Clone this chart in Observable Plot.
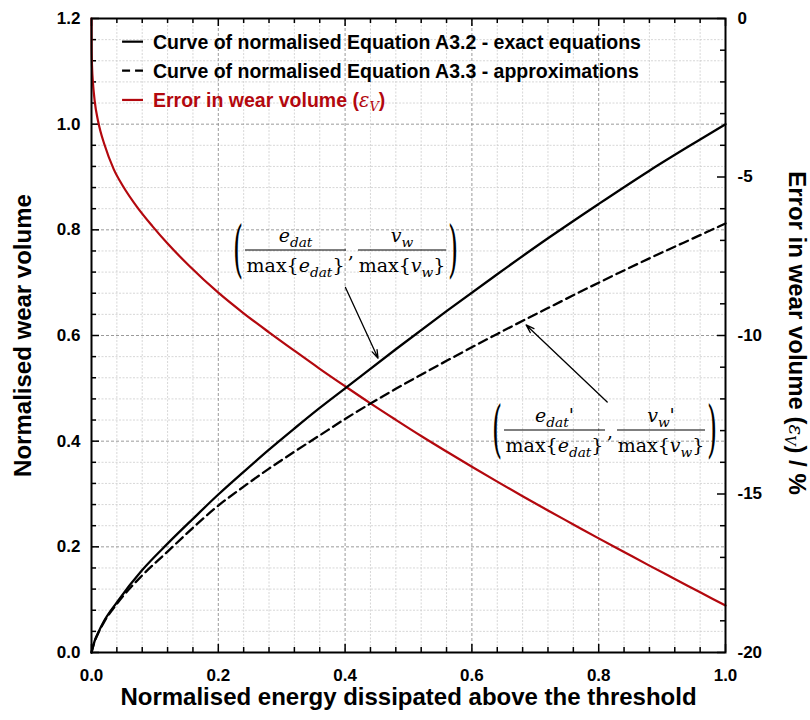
<!DOCTYPE html>
<html><head><meta charset="utf-8">
<script src="https://cdn.jsdelivr.net/npm/d3@7"></script>
<script src="https://cdn.jsdelivr.net/npm/@observablehq/plot@0.6"></script>
<style>body{margin:0;background:#fff}</style>
</head><body><div id="chart"></div>
<script>
// ---------- data ----------
const energy = [0, 0.005, 0.01, 0.02, 0.04, 0.08, 0.12, 0.16, 0.2, 0.24, 0.28, 0.32, 0.36, 0.4, 0.48, 0.56, 0.64, 0.72, 0.8, 0.88, 0.96, 1.0];
const exactVolume = [0, 0.022, 0.036, 0.060, 0.095, 0.156, 0.206, 0.253, 0.299, 0.342, 0.384, 0.424, 0.463, 0.500, 0.574, 0.646, 0.716, 0.784, 0.849, 0.912, 0.971, 1.0];
const approxVolume = [0, 0.021, 0.035, 0.058, 0.092, 0.146, 0.191, 0.236, 0.278, 0.314, 0.348, 0.380, 0.411, 0.442, 0.499, 0.552, 0.603, 0.652, 0.700, 0.746, 0.790, 0.812];
const errorEnergy = [0, 0.0002, 0.001, 0.002, 0.005, 0.01, 0.014, 0.02, 0.035, 0.05, 0.072, 0.096, 0.12, 0.154, 0.2, 0.24, 0.28, 0.32, 0.36, 0.4, 0.44, 0.48, 0.52, 0.56, 0.6, 0.64, 0.68, 0.72, 0.76, 0.8, 0.84, 0.88, 0.92, 0.96, 1.0];
const errorPercent = [0, -0.95, -1.6, -1.95, -2.6, -3.2, -3.55, -3.95, -4.75, -5.3, -5.95, -6.55, -7.1, -7.8, -8.65, -9.3, -9.9, -10.48, -11.05, -11.6, -12.14, -12.66, -13.17, -13.66, -14.14, -14.61, -15.07, -15.52, -15.96, -16.4, -16.83, -17.26, -17.68, -18.1, -18.52];

const xTicks = [0, 0.2, 0.4, 0.6, 0.8, 1.0];
const yTicks = [0, 0.2, 0.4, 0.6, 0.8, 1.0, 1.2];
const rightTicks = [0, -5, -10, -15, -20];
const legendLabels = ["Curve of normalised Equation A3.2 - exact equations", "Curve of normalised Equation A3.3 - approximations", "Error in wear volume ("];
const xTitle = "Normalised energy dissipated above the threshold";
const yTitle = "Normalised wear volume";
const y2Title = "Error in wear volume (";
// annotation arrows (data coordinates)
const arrows = [
  {x1: 0.4006, y1: 0.691, x2: 0.452, y2: 0.557},
  {x1: 0.8134, y1: 0.474, x2: 0.6855, y2: 0.620}
];
const annoAnchors = [{x: 0.224, y: 0.761, prime: false}, {x: 0.6325, y: 0.4202, prime: true}];

// ---------- helpers ----------
const RED = "#b3080e";
const errMin = -20, errMax = 0, yMax = 1.2;
const toLeft = e => yMax * (e - errMin) / (errMax - errMin);
const W = 810, H = 720, mL = 91, mR = 85, mT = 18, mB = 68;
const pxX = 1 / (W - mL - mR), pxY = yMax / (H - mT - mB);

const exactData = energy.map((x, i) => ({x, y: exactVolume[i]}));
const approxData = energy.map((x, i) => ({x, y: approxVolume[i]}));
const errorData = errorEnergy.map((x, i) => ({x, y: toLeft(errorPercent[i])}));

const step = 0.04;
const xMinor = d3.range(1, 25).filter(i => i % 5 !== 0).map(i => +(i * step).toFixed(3));
const yMinor = d3.range(1, 30).filter(i => i % 5 !== 0).map(i => +(i * step).toFixed(3));
const xAllTicks = d3.range(0, 26).map(i => +(i * step).toFixed(3));
const yAllTicks = d3.range(0, 31).map(i => +(i * step).toFixed(3));
const rAll = d3.range(-20, 1);
const xMajor = [0.2, 0.4, 0.6, 0.8];
const yMajor = [0.2, 0.4, 0.6, 0.8, 1.0];
const isMajX = v => Math.abs(v * 5 - Math.round(v * 5)) < 1e-6;

const tickW = 1.5;
const plot = Plot.plot({
  width: W, height: H,
  marginLeft: mL, marginRight: mR, marginTop: mT, marginBottom: mB,
  x: {domain: [0, 1], axis: null},
  y: {domain: [0, yMax], axis: null},
  style: {fontFamily: "'Liberation Sans', Arial, sans-serif", fontWeight: "bold", fontSize: "17px", background: "white", overflow: "visible"},
  marks: [
    Plot.ruleX(xMinor, {stroke: "#cdcdcd", strokeWidth: 0.8, strokeDasharray: "2,1.5"}),
    Plot.ruleY(yMinor, {stroke: "#cdcdcd", strokeWidth: 0.8, strokeDasharray: "2,1.5"}),
    Plot.ruleX(xMajor, {stroke: "#8f8f8f", strokeWidth: 0.9, strokeDasharray: "3,2"}),
    Plot.ruleY(yMajor, {stroke: "#8f8f8f", strokeWidth: 0.9, strokeDasharray: "3,2"}),
    // ticks (inward)
    Plot.ruleY(yAllTicks, {y: d => d, x1: 0, x2: d => (isMajX(d) ? 8 : 5) * pxX, stroke: "black", strokeWidth: tickW}),
    Plot.ruleX(xAllTicks, {x: d => d, y1: 0, y2: d => (isMajX(d) ? 8 : 5) * pxY, stroke: "black", strokeWidth: tickW}),
    Plot.ruleX(xAllTicks, {x: d => d, y1: yMax, y2: d => yMax - (isMajX(d) ? 8 : 5) * pxY, stroke: "black", strokeWidth: tickW}),
    Plot.ruleY(rAll, {y: d => toLeft(d), x1: 1, x2: d => 1 - (d % 5 === 0 ? 8 : 5) * pxX, stroke: "black", strokeWidth: tickW}),
    // curves
    Plot.line(errorData, {x: "x", y: "y", stroke: RED, strokeWidth: 2.2, curve: "monotone-x"}),
    Plot.line(exactData, {x: "x", y: "y", stroke: "black", strokeWidth: 2.3, curve: "monotone-x"}),
    Plot.line(approxData, {x: "x", y: "y", stroke: "black", strokeWidth: 2.3, strokeDasharray: "9,5", curve: "monotone-x"}),
    Plot.arrow(arrows, {x1: "x1", y1: "y1", x2: "x2", y2: "y2", stroke: "black", strokeWidth: 1.3, headLength: 10, headAngle: 36}),
    Plot.frame({stroke: "black", strokeWidth: 2}),
    // tick labels
    Plot.text(yTicks, {x: 0, y: d => d, text: d => d.toFixed(1), textAnchor: "end", dx: -11, fontSize: 17, fontWeight: "bold"}),
    Plot.text(xTicks, {x: d => d, y: 0, text: d => d.toFixed(1), dy: 23, fontSize: 17, fontWeight: "bold"}),
    Plot.text(rightTicks, {x: 1, y: d => toLeft(d), text: d => String(d), textAnchor: "start", dx: 12, fontSize: 17, fontWeight: "bold"}),
    // axis titles
    Plot.text([xTitle], {x: 0.5, y: 0, text: d => d, dy: 45, fontSize: 24, fontWeight: "bold"}),
    Plot.text([yTitle], {x: 0, y: yMax / 2, text: d => d, rotate: -90, dx: -68, fontSize: 24, fontWeight: "bold"})
  ]
});
document.getElementById("chart").appendChild(plot);

// ---------- rich text overlays positioned through the scales ----------
const svg = d3.select(plot);
const sx = plot.scale("x"), sy = plot.scale("y");
const X = v => sx.apply(v), Y = v => sy.apply(v);

// legend
const lg = svg.append("g").attr("font-family", "'Liberation Sans', Arial, sans-serif").attr("font-weight", "bold").attr("font-size", 19.5).attr("text-anchor", "start");
const legendRows = [1.1552, 1.1003, 1.0449];
const legendStyles = [{stroke: "black", dash: null}, {stroke: "black", dash: "8,5"}, {stroke: RED, dash: null}];
legendRows.forEach((ry, i) => {
  const yy = Y(ry);
  const l = lg.append("line").attr("x1", X(0.049)).attr("x2", X(0.082)).attr("y1", yy).attr("y2", yy)
    .attr("stroke", legendStyles[i].stroke).attr("stroke-width", 2.2);
  if (legendStyles[i].dash) l.attr("stroke-dasharray", legendStyles[i].dash);
  const t = lg.append("text").attr("x", X(0.0978)).attr("y", yy).attr("dy", "0.36em").attr("text-anchor", "start").attr("fill", legendStyles[i].stroke);
  t.append("tspan").text(legendLabels[i]);
  if (i === 2) {
    t.append("tspan").text("ε").attr("font-family", "'DejaVu Serif', serif").attr("font-weight", "normal").attr("font-style", "italic");
    t.append("tspan").text("V").attr("font-family", "'DejaVu Serif', serif").attr("font-weight", "normal").attr("font-style", "italic").attr("font-size", 13).attr("dy", 4);
    t.append("tspan").text(")").attr("dy", -4);
  }
});

// right axis title
const rt = svg.append("text").attr("transform", `translate(${X(1) + 64},${Y(yMax / 2) - 2}) rotate(90)`)
  .attr("text-anchor", "middle").attr("font-family", "'Liberation Sans', Arial, sans-serif").attr("font-weight", "bold").attr("font-size", 24);
rt.append("tspan").text(y2Title);
rt.append("tspan").text("ε").attr("font-family", "'DejaVu Serif', serif").attr("font-weight", "normal").attr("font-style", "italic").attr("font-size", 20);
rt.append("tspan").text("V").attr("font-family", "'DejaVu Serif', serif").attr("font-weight", "normal").attr("font-style", "italic").attr("font-size", 14).attr("dy", 4);
rt.append("tspan").text(") / %").attr("dy", -4);

// math annotations
function richText(g, x, y, parts, size) {
  const t = g.append("text").attr("x", x).attr("y", y).attr("text-anchor", "middle")
    .attr("font-family", "'DejaVu Serif', serif").attr("font-size", size).attr("font-weight", "normal");
  let shift = 0;
  for (const [s, k] of parts) {
    const target = k === "s" ? 5 : 0;
    const sp = t.append("tspan").text(s);
    if (target - shift !== 0) sp.attr("dy", target - shift);
    shift = target;
    if (k === "s") sp.attr("font-size", size * 0.72).attr("font-style", "italic");
    else if (k === "p") sp.attr("font-style", "italic");
    else if (k === "i") sp.attr("font-style", "italic");
  }
}
function paren(g, x, y, ch) {
  g.append("text").attr("transform", `translate(${x},${y}) scale(1,2.35)`).attr("text-anchor", "middle")
    .attr("y", 8).attr("font-family", "'DejaVu Serif', serif").attr("font-weight", "normal").attr("font-size", 26).text(ch);
}
annoAnchors.forEach(a => {
  const g = svg.append("g").attr("fill", "black");
  const ax = X(a.x), ay = Y(a.y), fs = 19;
  paren(g, ax + 5, ay + 1, "(");
  paren(g, ax + 220, ay + 1, ")");
  const fr = [{l: 12, r: 113, num: [["e", "i"], ["dat", "s"]], den: [["max{", "n"], ["e", "i"], ["dat", "s"], ["}", "n"]]},
              {l: 125, r: 213, num: [["v", "i"], ["w", "s"]], den: [["max{", "n"], ["v", "i"], ["w", "s"], ["}", "n"]]}];
  fr.forEach(f => {
    g.append("line").attr("x1", ax + f.l).attr("x2", ax + f.r).attr("y1", ay).attr("y2", ay).attr("stroke", "black").attr("stroke-width", 1.1);
    const num = a.prime ? f.num.concat([["'", "p"]]) : f.num;
    richText(g, ax + (f.l + f.r) / 2, ay - 8, num, fs);
    richText(g, ax + (f.l + f.r) / 2, ay + 22, f.den, fs);
  });
  g.append("text").attr("x", ax + 118).attr("y", ay + 8).attr("text-anchor", "middle").attr("font-family", "'DejaVu Serif', serif").attr("font-weight", "normal").attr("font-size", fs).text(",");
});
</script>
</body></html>
